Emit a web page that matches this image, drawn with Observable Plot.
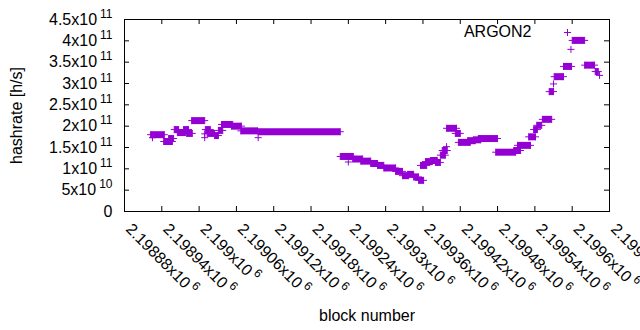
<!DOCTYPE html>
<html><head><meta charset="utf-8">
<script src="https://cdn.jsdelivr.net/npm/d3@7"></script>
<script src="https://cdn.jsdelivr.net/npm/@observablehq/plot@0.6"></script>
<style>html,body{margin:0;padding:0;overflow:hidden;background:#fff}</style>
</head><body><div id="chart"></div>
<script>
// Runs of consecutive blocks sharing (almost) the same hashrate estimate
const runStart = [2198922,2198943,2198951,2198960,2198965,2198975,2198980,2198988,2199010,2199013,2199025,2199031,2199036,2199052,2199067,2199095,2199227,2199247,2199260,2199276,2199287,2199297,2199316,2199327,2199335,2199345,2199353,2199356,2199364,2199372,2199380,2199388,2199391,2199398,2199412,2199417,2199432,2199441,2199449,2199477,2199506,2199512,2199530,2199538,2199543,2199552,2199563,2199571,2199586,2199600,2199620,2199637];
const runEnd   = [2198944,2198957,2198959,2198967,2198978,2198983,2198989,2199009,2199018,2199025,2199031,2199038,2199054,2199068,2199094,2199227,2199248,2199263,2199276,2199287,2199297,2199316,2199327,2199337,2199345,2199353,2199361,2199366,2199375,2199383,2199388,2199396,2199399,2199414,2199420,2199436,2199444,2199453,2199480,2199509,2199517,2199533,2199541,2199544,2199551,2199567,2199570,2199586,2199599,2199620,2199636,2199642];
const runValue = [1.80e11,1.64e11,1.71e11,1.92e11,1.85e11,1.92e11,1.83e11,2.13e11,1.92e11,1.83e11,1.78e11,1.90e11,2.04e11,2.00e11,1.89e11,1.87e11,1.29e11,1.23e11,1.18e11,1.125e11,1.08e11,1.02e11,0.94e11,0.84e11,0.87e11,0.81e11,0.73e11,1.08e11,1.17e11,1.195e11,1.15e11,1.32e11,1.43e11,1.95e11,1.83e11,1.62e11,1.66e11,1.68e11,1.71e11,1.39e11,1.43e11,1.55e11,1.75e11,1.92e11,2.02e11,2.16e11,2.81e11,3.16e11,3.40e11,4.01e11,3.43e11,3.28e11];
// Isolated points
const singleBlock = [2198925,2199009,2199009,2199095,2199240,2199398,2199570,2199598,2199644];
const singleValue = [1.73e11,1.82e11,1.73e11,1.73e11,1.16e11,1.52e11,2.99e11,3.80e11,3.19e11];

const xTicks = [2198880,2198940,2199000,2199060,2199120,2199180,2199240,2199300,2199360,2199420,2199480,2199540,2199600,2199660];
const xTickLabels = ["2.19888x10^6","2.19894x10^6","2.199x10^6","2.19906x10^6","2.19912x10^6","2.19918x10^6","2.19924x10^6","2.1993x10^6","2.19936x10^6","2.19942x10^6","2.19948x10^6","2.19954x10^6","2.1996x10^6","2.19966x10^6"];
const yTicks = [0,5e10,1e11,1.5e11,2e11,2.5e11,3e11,3.5e11,4e11,4.5e11];
const yTickLabels = ["0","5x10^10","1x10^11","1.5x10^11","2x10^11","2.5x10^11","3x10^11","3.5x10^11","4x10^11","4.5x10^11"];
const seriesName = "ARGON2";
const xLabel = "block number";
const yLabel = "hashrate [h/s]";

const color = "#9400d3";
const runs = runStart.map((s, i) => ({x1: s, x2: runEnd[i], y: runValue[i]}));
const pts = runs.flatMap(r => [{x: r.x1, y: r.y}, {x: r.x2, y: r.y}])
  .concat(singleBlock.map((b, i) => ({x: b, y: singleValue[i]})));
const plus = {draw(ctx, size) {
  const r = Math.sqrt(size / Math.PI);
  ctx.moveTo(-r, 0); ctx.lineTo(r, 0); ctx.moveTo(0, -r); ctx.lineTo(0, r);
}};

const plot = Plot.plot({
  width: 640, height: 330,
  marginLeft: 124, marginRight: 31, marginTop: 19, marginBottom: 119,
  style: {fontFamily: "'Liberation Sans', Arial, sans-serif", fontSize: "16px", color: "#000", background: "#fff", overflow: "visible"},
  x: {domain: [2198880, 2199660], axis: null},
  y: {domain: [0, 4.5e11], axis: null},
  marks: [
    Plot.link(runs, {x1: "x1", x2: "x2", y1: "y", y2: "y", stroke: color, strokeWidth: 7, strokeLinecap: "butt"}),
    Plot.dot(pts, {x: "x", y: "y", r: 3.5, symbol: plus, stroke: color, fill: "none", strokeWidth: 1}),
    Plot.frame({stroke: "#000"}),
    Plot.tickY(yTicks, {y: d => d, insetRight: 480, stroke: "#000"}),
    Plot.tickY(yTicks, {y: d => d, insetLeft: 480, stroke: "#000"}),
    Plot.tickX(xTicks, {x: d => d, insetTop: 187, stroke: "#000"}),
    Plot.tickX(xTicks, {x: d => d, insetBottom: 187, stroke: "#000"}),
    Plot.text(yTicks, {y: d => d, text: (d, i) => yTickLabels[i], frameAnchor: "left", textAnchor: "end", lineAnchor: "middle", dx: -12, fill: "#000"}),
    Plot.text(xTicks, {x: d => d, text: (d, i) => xTickLabels[i], frameAnchor: "bottom", textAnchor: "start", lineAnchor: "middle", rotate: 45, dx: 4, dy: 15, fill: "#000"}),
    Plot.text([yLabel], {frameAnchor: "left", rotate: -90, dx: -108, textAnchor: "middle", lineAnchor: "middle", fill: "#000"}),
    Plot.text([xLabel], {frameAnchor: "bottom", dy: 104, textAnchor: "middle", lineAnchor: "middle", fill: "#000"}),
    Plot.text([seriesName], {frameAnchor: "top-right", textAnchor: "end", lineAnchor: "middle", dx: -78, dy: 12.5, fill: "#000"}),
    Plot.dot([seriesName], {frameAnchor: "top-right", dx: -42, dy: 13, r: 3.5, symbol: plus, stroke: color, fill: "none", strokeWidth: 1})
  ]
});

const ns = "http://www.w3.org/2000/svg";
plot.querySelectorAll("text").forEach(t => {
  const s = t.textContent;
  if (!s.includes("^")) return;
  const [m, e] = s.split("^");
  while (t.firstChild) t.removeChild(t.firstChild);
  const a = document.createElementNS(ns, "tspan");
  a.textContent = m;
  const b = document.createElementNS(ns, "tspan");
  b.textContent = e;
  b.setAttribute("dx", "3");
  b.setAttribute("dy", "-7");
  b.setAttribute("font-size", "12px");
  t.appendChild(a); t.appendChild(b);
});
document.getElementById("chart").appendChild(plot);
</script>
</body></html>
